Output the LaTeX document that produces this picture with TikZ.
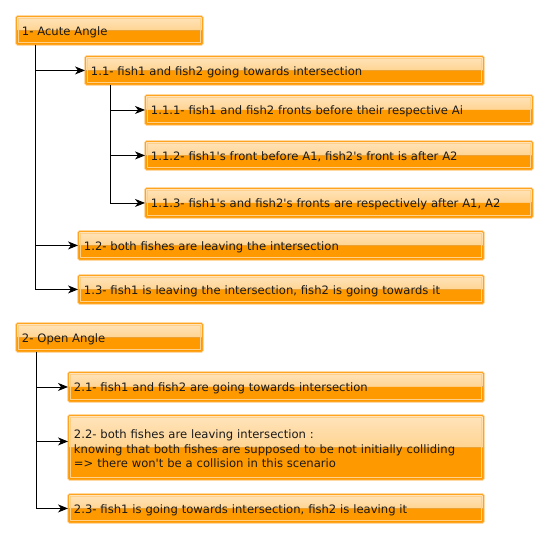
\documentclass[tikz,border=0pt]{standalone}
\usepackage{fontspec}
\setmainfont{DejaVu Sans}[Ligatures=TeXOff]
\usetikzlibrary{arrows.meta}
\definecolor{basec}{HTML}{FF9900}
\definecolor{topa}{HTML}{FFE4BC}
\definecolor{topb}{HTML}{FFC466}
\definecolor{borderc}{HTML}{FFA41F}
\definecolor{glowc}{HTML}{FFD9A3}
\definecolor{innerc}{HTML}{FFD08A}
\definecolor{txtc}{HTML}{1A1A1A}
\begin{document}
\begin{tikzpicture}[x=1pt,y=-1pt,
  box/.style={anchor=north west, inner xsep=5.5pt, inner ysep=0pt, align=left,
    font=\fontsize{11.6}{14.5}\selectfont, text=txtc,
    execute at begin node={\rule{0pt}{12pt}},
    draw=borderc, line width=0.9pt, rounded corners=1.2pt,
    preaction={draw=glowc, line width=2.6pt},
    path picture={
      \fill[top color=topa, bottom color=topb] (path picture bounding box.north west) rectangle (path picture bounding box.east);
      \fill[basec] (path picture bounding box.west) rectangle (path picture bounding box.south east);
      \draw[innerc, line width=0.7pt, sharp corners] ([shift={(1.8pt,-1.8pt)}]path picture bounding box.north west) rectangle ([shift={(-1.8pt,1.8pt)}]path picture bounding box.south east);
    }},
  bw/.style 2 args={minimum width=#1pt, text width=#1pt-11pt, minimum height=#2pt},
  conn/.style={draw=black, line width=0.9pt, -{Stealth[length=10pt,width=8pt,inset=3pt]}}
]
\useasboundingbox[fill=white] (0,0) rectangle (547,538);

\node[box, bw={186}{28}] (n1) at (16,16) {1- Acute Angle};
\node[box, bw={398}{28}] (n11) at (85,56) {1.1- fish1 and fish2 going towards intersection};
\node[box, bw={387}{29}] (n111) at (145,95) {1.1.1- fish1 and fish2 fronts before their respective Ai};
\node[box, bw={387}{28}] (n112) at (145,141) {1.1.2- fish1's front before A1, fish2's front is after A2};
\node[box, bw={387}{29}] (n113) at (145,188) {1.1.3- fish1's and fish2's fronts are respectively after A1, A2};
\node[box, bw={405}{28}] (n12) at (78,231) {1.2- both fishes are leaving the intersection};
\node[box, bw={405}{28}] (n13) at (78,275) {1.3- fish1 is leaving the intersection, fish2 is going towards it};
\node[box, bw={186}{28}] (n2) at (16,323) {2- Open Angle};
\node[box, bw={415}{29}] (n21) at (68,372) {2.1- fish1 and fish2 are going towards intersection};
\node[box, bw={415}{64}] (n22) at (68,415) {2.2- both fishes are leaving intersection :\\knowing that both fishes are supposed to be not initially colliding\\=> there won't be a collision in this scenario};
\node[box, bw={415}{28}] (n23) at (68,494) {2.3- fish1 is going towards intersection, fish2 is leaving it};

\draw[conn] ([xshift=19pt]n1.south west) |- (n11.west);
\draw[conn] ([xshift=19pt]n1.south west) |- (n12.west);
\draw[conn] ([xshift=19pt]n1.south west) |- (n13.west);
\draw[conn] ([xshift=25pt]n11.south west) |- (n111.west);
\draw[conn] ([xshift=25pt]n11.south west) |- (n112.west);
\draw[conn] ([xshift=25pt]n11.south west) |- (n113.west);
\draw[conn] ([xshift=20pt]n2.south west) |- (n21.west);
\draw[conn] ([xshift=20pt]n2.south west) |- ([yshift=6pt]n22.west);
\draw[conn] ([xshift=20pt]n2.south west) |- (n23.west);
\end{tikzpicture}
\end{document}
